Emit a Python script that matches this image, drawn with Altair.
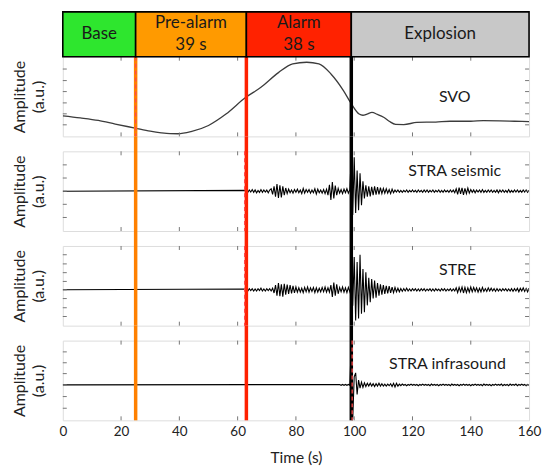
import altair as alt
import pandas as pd

FONT = "Lato"

# ---------------- data ----------------
X_TICK_LABELS = [0, 20, 40, 60, 80, 100, 120, 140, 160]
INNER_X_TICKS = [20, 40, 60, 80, 100, 120, 140]

PHASE_TEXT = ["Base", "Pre-alarm\n39 s", "Alarm\n38 s", "Explosion"]
PHASE_START = [0, 25, 63, 99]
PHASE_END = [25, 63, 99, 160]
PHASE_COLOR = ["#2EE62E", "#FF9A00", "#FF2200", "#C8C8C8"]

EVENT_T = [25, 63, 99]
EVENT_COLOR = ["#FF8000", "#FF2000", "#000000"]

# SVO (smooth) trace, normalised amplitude
SVO_T = [0, 6, 12.2, 18, 24.8, 30, 33.8, 36.8, 39.5, 44, 50, 56, 62.8, 68, 74,
         78.9, 83.7, 87.9, 92.1, 96.3, 99, 101.7, 103, 104.4, 106.1, 108, 110.1,
         112, 114.2, 117, 121.5, 128, 133, 140, 144.3, 150, 155, 160]
SVO_V = [0.258, 0.232, 0.20, 0.155, 0.104, 0.065, 0.045, 0.035, 0.033, 0.06,
         0.137, 0.28, 0.49, 0.616, 0.80, 0.91, 0.93, 0.91, 0.78, 0.575, 0.41,
         0.28, 0.265, 0.28, 0.30, 0.275, 0.24, 0.19, 0.15, 0.148, 0.175, 0.18,
         0.19, 0.19, 0.197, 0.195, 0.19, 0.185]

SAMPLE_STEP = 0.5  # s

# STRA seismic, samples from 63 s
STRA_SEIS_T0 = 63.0
STRA_SEIS_A = [
    2, -3, 3, -2, 4, -3, 3, -4, 2, -3, 4, -3, 3, -2, 3, -4, 3,
    6, -8, 12, -14, 18, -17, 15, -16, 12, -10, 8, -6, 5,
    -4, 3, -5, 4, -3, 5, -4, 3, -6, 7, -5, 4, -3, 4, -5, 3, -4, 6, -7, 5, -4, 3, -5, 4, -6, 5,
    -10, 16, -22, 23, -18, 14, -10, 7,
    -5, 4, -6, 5, -4, 6, -5, 4,
    90, -60, 85, -55, 52, -48, 45, -35, 25,
    -18, 15, -14, 12, -13, 11, -10, 12, -9, 10, -8, 9,
    -6, 7, -5, 6, -5, 4, -6, 5, -4,
    3, -2, 3, -3, 2, -3, 2, -2, 3, -3, 2, -2, 3, -2, 2, -3, 3, -2, 2, -3,
    3, -2, 3, -3, 2, -2, 3, -3, 2, -2, 3, -3, 2, -3, 3, -2, 2, -3, 3, -2, 3, -4,
    6, -8, 9, -7, 8, -9, 7, -6, 8, -5, 4,
    -3, 3, -4, 3, -2, 3, -3, 4, -3, 2, -3, 3, -2, 3, -3, 2, -3, 3, -4, 3,
    -2, 3, -3, 2, -3, 4, -3, 2, -3, 3, -2, 3, -3, 2, -3, 3, -2, 3, -3, 2,
]

# STRE seismic, samples from 63 s
STRE_T0 = 63.0
STRE_A = [
    2, -3, 3, -2, 3, -3, 2, -3, 3, -2, 4, -3, 2, -3, 3, -2, 3, -3, 4,
    -8, 12, -15, 17, -16, 14, -17, 15, -12, 13, -10, 12, -9, 10, -8, 7, -6,
    5, -6, 4, -7, 6, -5, 7, -6, 5, -4, 6, -7, 5, -6, 4, -5, 6, -5, 7, -6, 5, -6,
    12, -18, 18, -15, 14, -10,
    6, -5, 7, -6, 5, -7, 6, -5,
    10, -40, 82, -77, 70, -72, 88, -60, 52, -56, 44, -39, 30, -31, 27, -22, 23, -20,
    17, -15, 14, -12, 12, -10, 10, -9, 9, -8, 7, -7,
    6, -5, 4, -5, 3, -4, 3, -3, 4, -3, 2, -3, 3, -2, 3, -3, 2, -3, 3, -2,
    3, -3, 2, -2, 3, -3, 2, -3, 3, -2, 2, -3, 3, -2, 3, -3, 2, -2, 3, -3, 2, -3,
    5, -7, 6, -5, 7, -8, 6, -7, 5, -6, 7, -5, 6, -4, 5, -6, 4, -5, 6, -4,
    3, -4, 5, -3, 4, -3, 3, -4,
    3, -3, 2, -3, 3, -2, 3, -3, 2, -3, 3, -4, 3, -3, 4, -5, 4, -3, 5, -4, 3, -5, 4,
]

# STRA infrasound, samples from 95 s
INFRA_T0 = 95.0
INFRA_A = [
    1, -1, 1, -1, 1, -1, 1, -1,
    100, -85, 20, 30, -24, 12, -8, 7, -6, 5,
    -4, 4, -3, 4, -3, 3, -4, 3, -3, 4, -3, 3, -3, 2, -3, 2, -2,
    3, -4, 4, -5, 4, -3, 2, -2,
    2, -1, 1, -2, 1, -1, 2, -1, 1, -1, 1, -2, 1, -1, 2, -1, 1, -1, 1, -2,
    2, -1, 1, -1, 1, -2, 1, -1, 2, -1, 1, -1, 1, -2, 2, -1, 1, -1, 1, -2,
    1, -1, 2, -1, 1, -1, 1, -2, 1, -1, 2, -1, 1, -1, 1, -2, 2, -1, 1, -1,
    1, -2, 1, -1, 2, -1, 1, -1, 2, -2, 1, -1, 1, -2, 2, -1, 1, -1, 2, -2,
    1, -1, 2, -1, 1, -2, 1, -1,
]

PANEL_LABELS = ["SVO", "STRA seismic", "STRE", "STRA infrasound"]
PICK_T = [25, 62.4, 62.4, 99.3]

SVO_YTICKS = [0.145, 0.283, 0.42, 0.562, 0.70, 0.845]
SEIS_YTICKS = [-66, -33, 0, 33, 66]
STRE_YTICKS = [-67, -45, -22, 0, 21, 43, 65, 88]
INFRA_YTICKS = [-58, -29, 0, 28, 55, 82]

# ---------------- layout ----------------
W, H, GAP, HDR = 468, 80, 15, 45
XS = alt.Scale(domain=[0, 160], nice=False, zero=False)

XAXIS = alt.Axis(values=X_TICK_LABELS, format="d", labelFontSize=13.5,
                 labelColor="#222", ticks=False, domain=False, grid=False,
                 labelPadding=4, labelFlush=False, title="Time (s)",
                 titleFontSize=15.5, titleFontWeight="normal", titleColor="#222",
                 titlePadding=13, labelFont=FONT, titleFont=FONT)
YAXIS = alt.Axis(title=["Amplitude", "(a.u.)"], labels=False, ticks=False,
                 domain=False, grid=False, titleFontSize=16,
                 titleFontWeight="normal", titleColor="#222", titlePadding=16,
                 titleLineHeight=19, titleFont=FONT)


def series(t0, amps):
    t = [0.0] + [t0 + SAMPLE_STEP * i for i in range(len(amps))]
    v = [0] + list(amps)
    return pd.DataFrame({"t": t, "v": v})


def panel(trace_df, ydom, yticks, label, label_t, label_v, pick_t, top_gap,
          bottom=False, line_color="black", line_width=1.1,
          interpolate="linear", header=False):
    ys = alt.Scale(domain=ydom, nice=False, zero=False)
    xaxis = XAXIS if bottom else None

    def X(f):
        return alt.X(f, type="quantitative", scale=XS, axis=xaxis)

    def Y(f):
        return alt.Y(f, type="quantitative", scale=ys, axis=YAXIS)

    layers = []
    layers.append(
        alt.Chart(trace_df).mark_line(color=line_color, strokeWidth=line_width,
                                      interpolate=interpolate, clip=True)
        .encode(x=X("t"), y=Y("v"))
    )
    ev = pd.DataFrame({"t": EVENT_T, "c": EVENT_COLOR})
    layers.append(
        alt.Chart(ev).mark_rule(strokeWidth=3.5)
        .encode(x=X("t"), color=alt.Color("c:N", scale=None, legend=None),
                y=alt.value(-top_gap), y2=alt.value(H))
    )
    layers.append(
        alt.Chart(pd.DataFrame({"t": [pick_t]}))
        .mark_rule(color="#FF4A4A", strokeWidth=1.3, strokeDash=[4, 3])
        .encode(x=X("t"), y=alt.value(0), y2=alt.value(H))
    )
    ytk = pd.DataFrame({"v": yticks})
    xtk = pd.DataFrame({"t": INNER_X_TICKS})
    tick_style = dict(color="#777", strokeWidth=1)
    layers.append(alt.Chart(ytk).mark_rule(**tick_style).encode(
        y=Y("v"), x=alt.value(0), x2=alt.value(4)))
    layers.append(alt.Chart(ytk).mark_rule(**tick_style).encode(
        y=Y("v"), x=alt.value(W - 4), x2=alt.value(W)))
    layers.append(alt.Chart(xtk).mark_rule(**tick_style).encode(
        x=X("t"), y=alt.value(0), y2=alt.value(4)))
    layers.append(alt.Chart(xtk).mark_rule(**tick_style).encode(
        x=X("t"), y=alt.value(H - 4), y2=alt.value(H)))
    layers.append(
        alt.Chart(pd.DataFrame({"t": [label_t], "v": [label_v], "s": [label]}))
        .mark_text(font=FONT, fontSize=16, color="#1a1a1a")
        .encode(x=X("t"), y=Y("v"), text="s:N")
    )
    if header:
        hdr = pd.DataFrame({"start": PHASE_START, "end": PHASE_END,
                            "text": PHASE_TEXT, "color": PHASE_COLOR})
        hdr["mid"] = (hdr["start"] + hdr["end"]) / 2
        two = hdr[hdr["text"].str.contains("\n")]
        one = hdr[~hdr["text"].str.contains("\n")]
        layers.append(
            alt.Chart(hdr).mark_rect(stroke="black", strokeWidth=1.6)
            .encode(x=X("start"), x2="end",
                    color=alt.Color("color:N", scale=None, legend=None),
                    y=alt.value(-HDR), y2=alt.value(0))
        )
        layers.append(
            alt.Chart(one).mark_text(font=FONT, fontSize=17, color="#1a1a1a",
                                     baseline="middle")
            .encode(x=X("mid"), y=alt.value(-HDR / 2), text="text:N")
        )
        layers.append(
            alt.Chart(two).mark_text(font=FONT, fontSize=17, color="#1a1a1a",
                                     lineBreak="\n", lineHeight=22,
                                     baseline="middle")
            .encode(x=X("mid"), y=alt.value(-HDR / 2 - 11), text="text:N")
        )
    return alt.layer(*layers).properties(width=W, height=H)


svo_df = pd.DataFrame({"t": SVO_T, "v": SVO_V})
p1 = panel(svo_df, [0, 1], SVO_YTICKS, PANEL_LABELS[0], 134.5, 0.50,
           PICK_T[0], 0, line_color="#3c3c3c", line_width=1.3,
           interpolate="monotone", header=True)
p2 = panel(series(STRA_SEIS_T0, STRA_SEIS_A), [-100, 100], SEIS_YTICKS,
           PANEL_LABELS[1], 134.5, 51, PICK_T[1], GAP)
p3 = panel(series(STRE_T0, STRE_A), [-90, 110], STRE_YTICKS,
           PANEL_LABELS[2], 135.5, 49, PICK_T[2], GAP)
p4 = panel(series(INFRA_T0, INFRA_A), [-88, 110], INFRA_YTICKS,
           PANEL_LABELS[3], 132, 53, PICK_T[3], GAP, bottom=True)

chart = (
    alt.vconcat(p1, p2, p3, p4, spacing=GAP, bounds="flush")
    .configure_view(stroke="#3d3d3d", strokeWidth=1.3)
    .configure(font=FONT)
    .properties(padding={"left": 3, "top": 1, "right": 0, "bottom": 0})
)

chart.save("out.html", embed_options={"renderer": "svg", "actions": False})
